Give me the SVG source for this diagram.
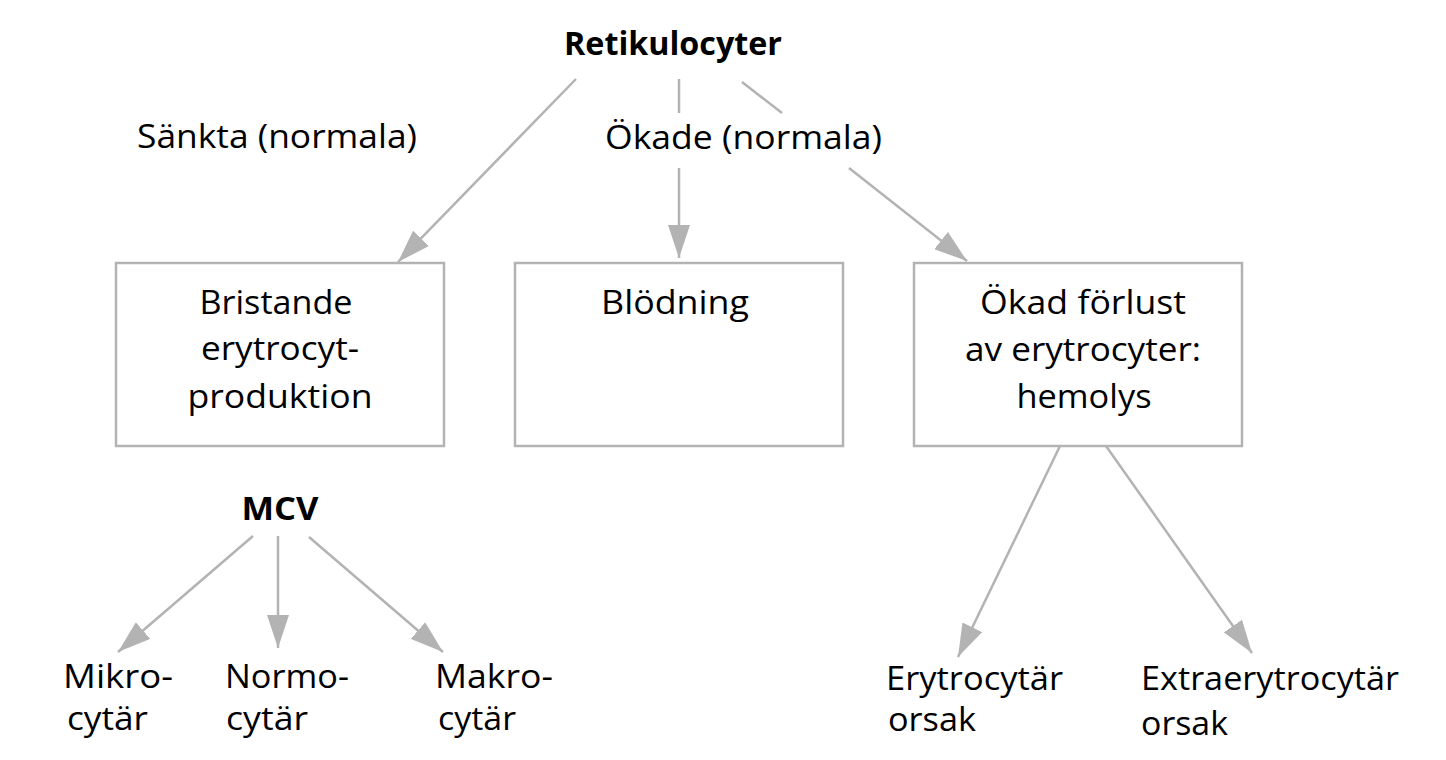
<svg xmlns="http://www.w3.org/2000/svg" width="1446" height="760" viewBox="0 0 1446 760">
<defs>
<marker id="ah" markerUnits="userSpaceOnUse" markerWidth="34" markerHeight="22" refX="33" refY="11" orient="auto" viewBox="0 0 34 22">
<path d="M0,0 L33,11 L0,22 Z" fill="#b3b3b3"/>
</marker>
<style>
.t{font-family:"Open Sans","Noto Sans","Liberation Sans",sans-serif;font-size:32px;fill:#000}
.b{font-weight:bold}
.m{text-anchor:middle}
.box{fill:#fff;stroke:#b3b3b3;stroke-width:2.5}
.c{stroke:#b3b3b3;stroke-width:2.5;fill:none}
.a{marker-end:url(#ah)}
</style>
</defs>
<rect width="1446" height="760" fill="#fff"/>
<g id="connectors">
<line class="c a" x1="576" y1="79" x2="398" y2="262"/>
<line class="c" x1="679" y1="79" x2="679" y2="113"/>
<line class="c a" x1="679" y1="168" x2="679" y2="258"/>
<line class="c" x1="742" y1="82" x2="782" y2="113"/>
<line class="c a" x1="849" y1="168" x2="967" y2="261"/>
<line class="c a" x1="253" y1="536" x2="118" y2="652"/>
<line class="c a" x1="278" y1="536" x2="278" y2="648"/>
<line class="c a" x1="309" y1="537" x2="443" y2="652"/>
<line class="c a" x1="1060" y1="446" x2="958" y2="657"/>
<line class="c a" x1="1106" y1="446" x2="1252" y2="653"/>
</g>
<g id="retikulocyter"><text class="t b m" x="673" y="55" textLength="218" lengthAdjust="spacingAndGlyphs">Retikulocyter</text></g>
<g id="sankta"><text class="t" x="137" y="148" textLength="280" lengthAdjust="spacingAndGlyphs">Sänkta (normala)</text></g>
<g id="okade"><text class="t" x="605" y="149" textLength="277" lengthAdjust="spacingAndGlyphs">Ökade (normala)</text></g>
<g id="bristande">
<rect class="box" x="116" y="263" width="328" height="183"/>
<text class="t m" x="276" y="314" textLength="153" lengthAdjust="spacingAndGlyphs">Bristande</text>
<text class="t m" x="280" y="360" textLength="158" lengthAdjust="spacingAndGlyphs">erytrocyt-</text>
<text class="t m" x="280" y="408" textLength="185" lengthAdjust="spacingAndGlyphs">produktion</text>
</g>
<g id="blodning">
<rect class="box" x="515" y="263" width="328" height="183"/>
<text class="t m" x="675" y="314" textLength="148" lengthAdjust="spacingAndGlyphs">Blödning</text>
</g>
<g id="hemolys">
<rect class="box" x="914" y="263" width="328" height="183"/>
<text class="t m" x="1083" y="314" textLength="206" lengthAdjust="spacingAndGlyphs">Ökad förlust</text>
<text class="t m" x="1083" y="361" textLength="236" lengthAdjust="spacingAndGlyphs">av erytrocyter:</text>
<text class="t m" x="1084" y="408" textLength="135" lengthAdjust="spacingAndGlyphs">hemolys</text>
</g>
<g id="mcv"><text class="t b m" x="280" y="520" textLength="77" lengthAdjust="spacingAndGlyphs">MCV</text></g>
<g id="mikro">
<text class="t" x="63" y="688" textLength="110" lengthAdjust="spacingAndGlyphs">Mikro-</text>
<text class="t" x="67" y="730" textLength="81" lengthAdjust="spacingAndGlyphs">cytär</text>
</g>
<g id="normo">
<text class="t" x="225" y="688" textLength="124" lengthAdjust="spacingAndGlyphs">Normo-</text>
<text class="t" x="226" y="730" textLength="82" lengthAdjust="spacingAndGlyphs">cytär</text>
</g>
<g id="makro">
<text class="t" x="435" y="688" textLength="118" lengthAdjust="spacingAndGlyphs">Makro-</text>
<text class="t" x="438" y="730" textLength="78" lengthAdjust="spacingAndGlyphs">cytär</text>
</g>
<g id="erytrocytar">
<text class="t" x="886" y="690" textLength="177" lengthAdjust="spacingAndGlyphs">Erytrocytär</text>
<text class="t" x="888" y="731" textLength="88" lengthAdjust="spacingAndGlyphs">orsak</text>
</g>
<g id="extraerytrocytar">
<text class="t" x="1141" y="690" textLength="258" lengthAdjust="spacingAndGlyphs">Extraerytrocytär</text>
<text class="t" x="1141" y="735" textLength="87" lengthAdjust="spacingAndGlyphs">orsak</text>
</g>
</svg>
